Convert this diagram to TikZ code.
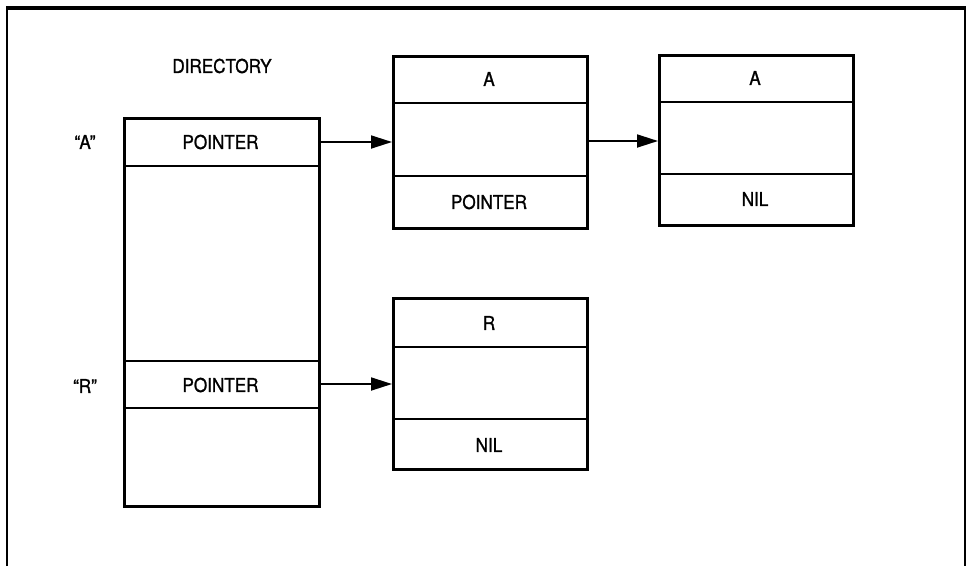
\documentclass[tikz,border=0pt]{standalone}
\usepackage{fontspec}
\setmainfont[FakeStretch=0.9,FakeBold=1.2]{TeX Gyre Heros}
\usetikzlibrary{arrows.meta}
\begin{document}
\begin{tikzpicture}[x=1pt,y=-1pt,
  box/.style={draw, line width=3pt, inner sep=0pt, anchor=north west},
  txt/.style={font=\fontsize{19}{20}\selectfont, inner sep=0pt},
  divider/.style={line width=2.6pt},
  link/.style={line width=1.8pt, -{Triangle[length=21pt,width=13pt]}},
  framev/.style={line width=2pt},
  frameh/.style={line width=4pt}]
\useasboundingbox (0,0) rectangle (972,566);
% frame
\coordinate (fbl) at (7,566);
\coordinate (ftl) at (7,8);
\coordinate (ftr) at (965,8);
\coordinate (fbr) at (965,566);
\draw[framev] (fbl) -- (ftl);
\draw[frameh] ([xshift=-1pt]ftl) -- ([xshift=1pt]ftr);
\draw[framev] (ftr) -- (fbr);

% directory
\node[txt] (dirlabel) at (222,66) {DIRECTORY};
\node[box, minimum width=195pt, minimum height=388pt] (dir) at (123,117) {};
\draw[divider] (dir.west |- 0,166) -- (dir.east |- 0,166);
\draw[divider] (dir.west |- 0,361) -- (dir.east |- 0,361);
\draw[divider] (dir.west |- 0,408) -- (dir.east |- 0,408);
\node[txt] (ptrA) at (220.5,142) {POINTER};
\node[txt] (ptrR) at (220.5,385) {POINTER};
\node[txt] (qA) at (85,142) {“A”};
\node[txt] (qR) at (85,386) {“R”};

% record A1
\node[box, minimum width=194pt, minimum height=172pt] (a1) at (392,55) {};
\draw[divider] (a1.west |- 0,103) -- (a1.east |- 0,103);
\draw[divider] (a1.west |- 0,176) -- (a1.east |- 0,176);
\node[txt] (a1h) at (489,79) {A};
\node[txt] (a1f) at (489,202) {POINTER};

% record A2
\node[box, minimum width=194pt, minimum height=170pt] (a2) at (658,54) {};
\draw[divider] (a2.west |- 0,102) -- (a2.east |- 0,102);
\draw[divider] (a2.west |- 0,174) -- (a2.east |- 0,174);
\node[txt] (a2h) at (755,78) {A};
\node[txt] (a2f) at (755,199) {NIL};

% record R
\node[box, minimum width=194pt, minimum height=171pt] (r) at (392,297) {};
\draw[divider] (r.west |- 0,347) -- (r.east |- 0,347);
\draw[divider] (r.west |- 0,419) -- (r.east |- 0,419);
\node[txt] (rh) at (489,323) {R};
\node[txt] (rf) at (489,445) {NIL};

% links
\draw[link] (dir.east |- 0,142) -- (a1.west |- 0,142);
\draw[link] (a1.east |- 0,141) -- (a2.west |- 0,141);
\draw[link] (dir.east |- 0,384) -- (r.west |- 0,384);
\end{tikzpicture}
\end{document}
